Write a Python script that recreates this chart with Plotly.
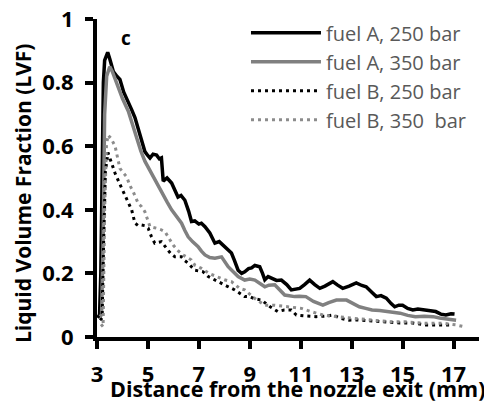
import plotly.graph_objects as go

# fuel A, 250 bar
a250_x = [3.02, 3.1, 3.15, 3.2, 3.25, 3.3, 3.36, 3.42, 3.5, 3.64, 3.78, 3.9, 4.05, 4.23, 4.36, 4.49,
          4.69, 4.88, 5.0, 5.08, 5.2, 5.34, 5.45, 5.53, 5.6, 5.75, 5.93, 6.05, 6.18, 6.3, 6.45, 6.6,
          6.71, 6.84, 7.0, 7.1, 7.24, 7.43, 7.63, 7.8, 8.02, 8.15, 8.28, 8.4, 8.54, 8.68, 8.8, 8.95,
          9.07, 9.2, 9.39, 9.5, 9.59, 9.72, 9.85, 10.05, 10.24, 10.45, 10.63, 10.8, 10.96, 11.15,
          11.35, 11.55, 11.75, 11.95, 12.1, 12.26, 12.45, 12.65, 12.9, 13.18, 13.4, 13.57, 13.8,
          13.97, 14.15, 14.36, 14.55, 14.69, 14.85, 15.0, 15.2, 15.4, 15.6, 15.8, 16.05, 16.3, 16.5,
          16.7, 16.9, 17.04]
a250_y = [0.06, 0.07, 0.2, 0.55, 0.8, 0.87, 0.885, 0.895, 0.875, 0.835, 0.82, 0.81, 0.77, 0.74, 0.715, 0.69,
          0.635, 0.583, 0.57, 0.563, 0.575, 0.572, 0.56, 0.563, 0.49, 0.5, 0.484, 0.46, 0.44, 0.445, 0.43, 0.395,
          0.363, 0.365, 0.355, 0.358, 0.347, 0.327, 0.295, 0.3, 0.284, 0.275, 0.264, 0.24, 0.21, 0.2, 0.205, 0.215,
          0.217, 0.225, 0.221, 0.2, 0.18, 0.19, 0.185, 0.178, 0.179, 0.165, 0.148, 0.15, 0.153, 0.165,
          0.179, 0.165, 0.153, 0.16, 0.168, 0.174, 0.163, 0.153, 0.16, 0.17, 0.162, 0.158, 0.14,
          0.127, 0.13, 0.122, 0.105, 0.095, 0.1, 0.1, 0.09, 0.085, 0.088, 0.085, 0.082, 0.08, 0.072,
          0.069, 0.073, 0.072]

# fuel A, 350 bar
a350_x = [3.12, 3.18, 3.24, 3.3, 3.38, 3.5, 3.6, 3.72, 3.84, 4.0, 4.23, 4.4, 4.56, 4.72, 4.88, 5.0, 5.15,
          5.35, 5.54, 5.75, 5.93, 6.1, 6.32, 6.45, 6.58, 6.75, 6.97, 7.1, 7.24, 7.43, 7.63, 7.89, 8.0, 8.15,
          8.35, 8.54, 8.8, 9.0, 9.2, 9.39, 9.59, 9.75, 9.98, 10.15, 10.37, 10.55, 10.76, 10.95, 11.2, 11.5,
          11.87, 12.1, 12.4, 12.8, 13.05, 13.3, 13.55, 13.8, 14.1, 14.36, 14.6, 14.9, 15.2, 15.5, 15.85,
          16.2, 16.45, 16.7, 16.9, 17.1]
a350_y = [0.064, 0.07, 0.3, 0.7, 0.82, 0.85, 0.835, 0.81, 0.79, 0.75, 0.71, 0.665, 0.625, 0.585, 0.553, 0.535, 0.515,
          0.48, 0.452, 0.425, 0.4, 0.38, 0.358, 0.335, 0.315, 0.3, 0.284, 0.27, 0.258, 0.25, 0.248, 0.252, 0.24, 0.221,
          0.205, 0.19, 0.179, 0.182, 0.179, 0.17, 0.158, 0.163, 0.164, 0.15, 0.132, 0.13, 0.127, 0.128, 0.127, 0.112,
          0.1, 0.108, 0.116, 0.116, 0.105, 0.095, 0.09, 0.085, 0.083, 0.08, 0.078, 0.075, 0.068, 0.064, 0.065,
          0.064, 0.06, 0.058, 0.055, 0.053]

# fuel B, 250 bar
b250_x = [3.12, 3.2, 3.26, 3.33, 3.43, 3.55, 3.71, 3.9, 4.1, 4.25, 4.36, 4.49, 4.62, 4.75, 4.88, 5.01, 5.14,
          5.27, 5.4, 5.53, 5.73, 5.9, 6.06, 6.32, 6.45, 6.58, 6.84, 7.17, 7.37, 7.55, 7.76, 8.1, 8.41, 8.6,
          8.8, 9.0, 9.2, 9.46, 9.8, 10.1, 10.35, 10.63, 10.83, 11.2, 11.6, 12.0, 12.27, 12.6, 12.9, 13.2,
          13.57, 13.9, 14.2, 14.55, 14.9, 15.4, 15.9, 16.4, 16.97]
b250_y = [0.053, 0.06, 0.3, 0.52, 0.58, 0.55, 0.515, 0.48, 0.447, 0.42, 0.4, 0.358, 0.35, 0.352, 0.35, 0.342, 0.315,
          0.295, 0.298, 0.3, 0.279, 0.262, 0.252, 0.252, 0.24, 0.232, 0.21, 0.205, 0.19, 0.182, 0.174, 0.16, 0.148, 0.137,
          0.127, 0.127, 0.12, 0.116, 0.095, 0.08, 0.085, 0.085, 0.069, 0.066, 0.064, 0.066, 0.069, 0.058, 0.053, 0.054,
          0.053, 0.05, 0.048, 0.046, 0.044, 0.044, 0.038, 0.038, 0.038]

# fuel B, 350 bar
b350_x = [3.16, 3.24, 3.3, 3.37, 3.43, 3.55, 3.71, 3.9, 4.1, 4.16, 4.3, 4.42, 4.62, 4.75, 4.88, 5.08, 5.34,
          5.5, 5.67, 5.85, 5.99, 6.2, 6.38, 6.55, 6.71, 6.84, 7.1, 7.4, 7.7, 8.0, 8.28, 8.6, 8.8, 9.0, 9.2,
          9.4, 9.59, 9.98, 10.2, 10.5, 10.8, 11.03, 11.4, 11.87, 12.4, 13.04, 13.4, 13.8, 14.5, 15.1, 15.5,
          15.9, 16.6, 17.1, 17.43]
b350_y = [0.04, 0.032, 0.4, 0.6, 0.635, 0.625, 0.6, 0.53, 0.51, 0.504, 0.475, 0.457, 0.42, 0.41, 0.394, 0.347, 0.342,
          0.338, 0.331, 0.305, 0.289, 0.27, 0.258, 0.25, 0.242, 0.226, 0.216, 0.2, 0.19, 0.18, 0.174, 0.153, 0.148, 0.133, 0.121,
          0.11, 0.1, 0.1, 0.098, 0.095, 0.092, 0.09, 0.08, 0.069, 0.064, 0.059, 0.056, 0.053, 0.048, 0.048, 0.045,
          0.043, 0.043, 0.038, 0.032]

x_ticks = [3, 5, 7, 9, 11, 13, 15, 17]
y_ticks = [0, 0.2, 0.4, 0.6, 0.8, 1]
y_labels = ['0', '0.2', '0.4', '0.6', '0.8', '1']

FONT = 'Open Sans'
bold = lambda size: dict(family=FONT, size=size, color='black', weight='bold')

fig = go.Figure()

fig.add_trace(go.Scatter(x=a250_x, y=a250_y, mode='lines', name='fuel A, 250 bar',
                         line=dict(color='black', width=3.5)))
fig.add_trace(go.Scatter(x=a350_x, y=a350_y, mode='lines', name='fuel A, 350 bar',
                         line=dict(color='#808080', width=3.5)))
fig.add_trace(go.Scatter(x=b250_x, y=b250_y, mode='lines', name='fuel B, 250 bar',
                         line=dict(color='black', width=3, dash='3px,4px')))
fig.add_trace(go.Scatter(x=b350_x, y=b350_y, mode='lines', name='fuel B, 350  bar',
                         line=dict(color='#8c8c8c', width=3, dash='3px,4px')))

axis_common = dict(
    showgrid=False, zeroline=False, showline=True, linecolor='black', linewidth=4,
    ticks='outside', ticklen=8, tickwidth=3.5, tickcolor='black',
    tickfont=bold(22), ticklabeloverflow='allow',
)

fig.update_xaxes(range=[3, 18], tickvals=x_ticks, ticklabelstandoff=7, **axis_common)
fig.update_yaxes(range=[0, 1], tickvals=y_ticks, ticktext=y_labels, ticklabelstandoff=7, **axis_common)

# axis titles as annotations so they sit where the original has them
fig.add_annotation(text='Distance from the nozzle exit (mm)', xref='paper', yref='paper',
                   x=0.5, y=0, xshift=9, yshift=-51, showarrow=False, yanchor='middle',
                   font=bold(21.5))
fig.add_annotation(text='Liquid Volume Fraction (LVF)', xref='paper', yref='paper',
                   x=0, y=0.5, xshift=-74, yshift=-16, showarrow=False, textangle=-90,
                   xanchor='center', yanchor='middle', font=bold(21))
fig.add_annotation(text='c', x=4.14, y=0.94, showarrow=False, font=bold(19))

# page body has an 8px margin, so the figure is 8px smaller than the window
fig.update_layout(
    width=484, height=393,
    margin=dict(l=89, r=13, t=11, b=64, autoexpand=False),
    plot_bgcolor='white', paper_bgcolor='white',
    showlegend=True,
    legend=dict(x=0.39, y=1.018, xanchor='left', yanchor='top', bgcolor='rgba(0,0,0,0)',
                font=dict(family=FONT, size=20, color='#595959'),
                tracegroupgap=0, itemwidth=70),
)

fig.write_html("out.html")
